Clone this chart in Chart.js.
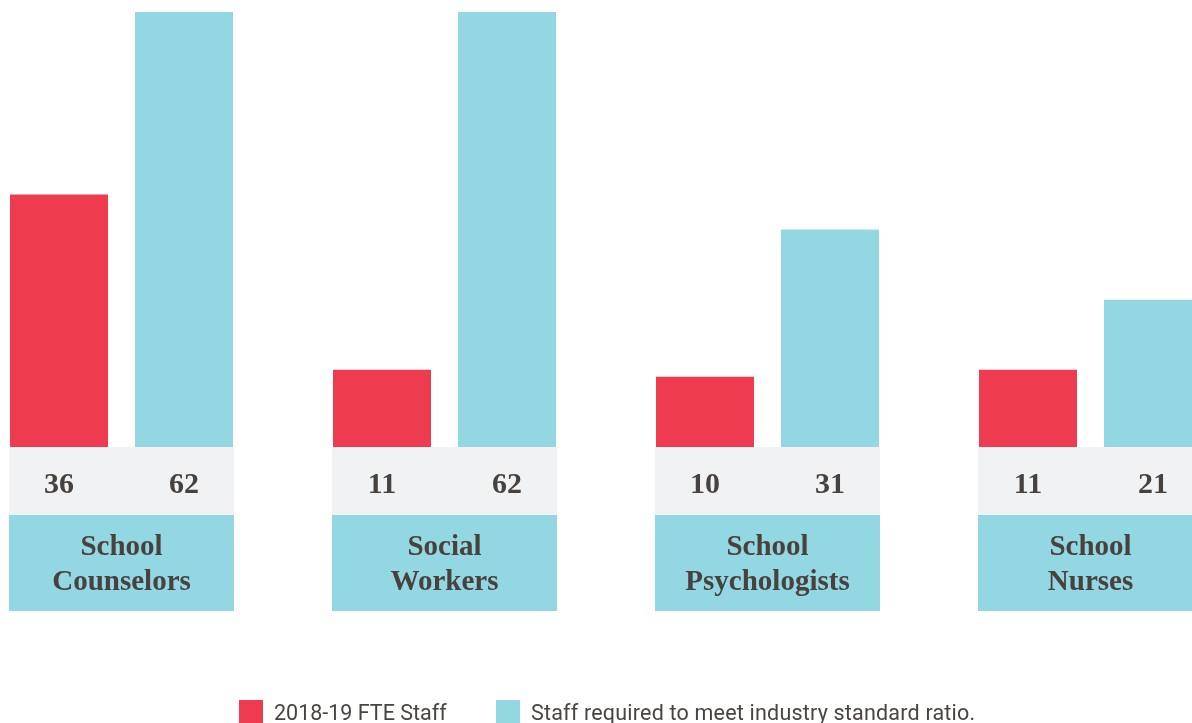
<!DOCTYPE html>
<html>
<head>
<meta charset="utf-8">
<script src="https://cdn.jsdelivr.net/npm/chart.js@4.4.1/dist/chart.umd.min.js"></script>
<style>
    html, body { margin: 0; padding: 0; background: #fff; overflow: hidden; width: 1192px; height: 723px; }
    #wrap { position: absolute; left: -40px; top: 0; width: 1292px; height: 723px; }
    .legend-box { position: absolute; top: 700px; width: 24px; height: 24px; }
    .legend-text { position: absolute; top: 701px; line-height: 24px; font-family: Roboto, sans-serif; font-size: 21.5px; color: #4a4440; white-space: nowrap; }
</style>
</head>
<body>
<div id="wrap"><canvas id="chart" width="1292" height="723"></canvas></div>

<div class="legend-box" style="left:239px;background:#ee3b4f"></div>
<div class="legend-text" style="left:274px">2018-19 FTE Staff</div>
<div class="legend-box" style="left:496px;background:#93d7e3"></div>
<div class="legend-text" style="left:531px;letter-spacing:0.2px">Staff required to meet industry standard ratio.</div>

<script>
// ---- data ----
const categories = [['School', 'Counselors'], ['Social', 'Workers'], ['School', 'Psychologists'], ['School', 'Nurses']];
const fteStaff = [36, 11, 10, 11];
const requiredStaff = [62, 62, 31, 21];

const RED = '#ee3b4f';
const CYAN = '#93d7e3';
const BAND = '#f1f2f4';
const TEXT = '#48423e';

// Draws the grey value band and the cyan category box under each pair of bars
const labelBoxes = {
    id: 'labelBoxes',
    afterDatasetsDraw(chart) {
        const ctx = chart.ctx;
        const base = chart.chartArea.bottom;
        const redBars = chart.getDatasetMeta(0).data;
        const cyanBars = chart.getDatasetMeta(1).data;

        ctx.save();
        categories.forEach((lines, i) => {
            const r = redBars[i].getProps(['x', 'width'], true);
            const c = cyanBars[i].getProps(['x', 'width'], true);
            const left = r.x - r.width / 2 - 1;
            const right = c.x + c.width / 2 + 1;
            const mid = (left + right) / 2;

            ctx.fillStyle = BAND;
            ctx.fillRect(left, base, right - left, 68);
            ctx.fillStyle = CYAN;
            ctx.fillRect(left, base + 68, right - left, 96);

            ctx.fillStyle = TEXT;
            ctx.textAlign = 'center';
            ctx.textBaseline = 'alphabetic';
            ctx.font = 'bold 30px "Liberation Serif", serif';
            ctx.fillText(String(fteStaff[i]), r.x, base + 46);
            ctx.fillText(String(requiredStaff[i]), c.x, base + 46);

            ctx.font = 'bold 29px "Liberation Serif", serif';
            ctx.fillText(lines[0], mid, base + 108);
            ctx.fillText(lines[1], mid, base + 143);
        });
        ctx.restore();
    }
};

new Chart(document.getElementById('chart').getContext('2d'), {
    type: 'bar',
    data: {
        labels: categories,
        datasets: [
            { label: '2018-19 FTE Staff', data: fteStaff, backgroundColor: RED },
            { label: 'Staff required to meet industry standard ratio.', data: requiredStaff, backgroundColor: CYAN }
        ]
    },
    options: {
        responsive: false,
        animation: false,
        layout: { padding: { top: 12, bottom: 276, left: 0, right: 0 } },
        datasets: { bar: { categoryPercentage: 0.774, barPercentage: 0.784 } },
        plugins: { legend: { display: false }, tooltip: { enabled: false } },
        scales: {
            x: { display: false },
            y: { display: false, min: 0, max: 62 }
        }
    },
    plugins: [labelBoxes]
});
</script>
</body>
</html>
